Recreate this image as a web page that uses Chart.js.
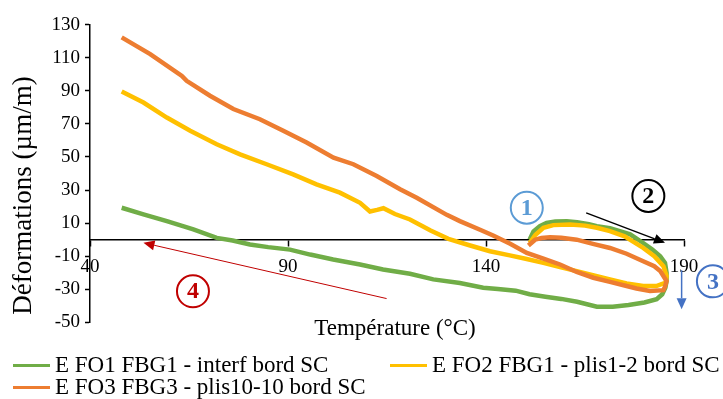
<!DOCTYPE html>
<html>
<head>
<meta charset="utf-8">
<script src="https://cdn.jsdelivr.net/npm/chart.js@4.4.1/dist/chart.umd.min.js"></script>
<style>
    body { margin: 0; background: #fff; }
    #wrap { position: relative; width: 723px; height: 399px; }
    #legend { position: absolute; left: 0; top: 0; font: 23px 'Liberation Serif', serif; color: #000; }
    .item { position: absolute; display: flex; align-items: center; height: 24px; white-space: nowrap; }
    .swatch { width: 37px; height: 3px; margin-right: 5px; }
</style>
</head>
<body>
<div id="wrap">
    <canvas id="chart"></canvas>
    <div id="legend"></div>
</div>
<script>
// Series labels and colours
const seriesLabels = [
    'E FO1 FBG1 - interf bord SC',
    'E FO2 FBG1 - plis1-2 bord SC',
    'E FO3 FBG3 - plis10-10 bord SC'
];
const seriesColors = ['#70ad47', '#ffc000', '#ed7d31'];

// Axis ticks
const xTicks = [40, 90, 140, 190];
const yTicks = [-50, -30, -10, 10, 30, 50, 70, 90, 110, 130];

// FO1 (green) - temperature / deformation, in recorded order
const fo1Temp = [151.0, 152.0, 153.6, 155.3, 157.5, 160.4, 163.0, 166.0, 168.0, 171.3, 174.0, 176.4, 179.7, 182.0, 184.0, 185.2, 185.6, 185.6, 185.3, 184.5,
    183.1, 180.0, 176.0, 172.0, 168.0, 163.0, 159.0, 155.0, 151.0, 147.5, 143.0, 139.3, 133.4, 126.7, 120.8, 114.0, 108.2, 101.4, 95.6, 90.5,
    85.0, 80.4, 76.0, 72.0, 66.1, 59.4, 53.5, 48.0];
const fo1Def = [0, 5, 8.2, 10.2, 11, 11.2, 10.5, 9.3, 8.2, 7.0, 5.0, 3.2, -2, -6, -10, -14, -20, -25, -29, -33,
    -36, -38, -39.5, -40.5, -40.5, -37.5, -35.8, -34.5, -33, -30.8, -29.8, -29, -26.2, -24, -20.6, -18, -15, -12, -9, -6,
    -4.5, -2.9, -0.5, 1.1, 6.2, 11.2, 15.3, 19.3];

// FO2 (yellow)
const fo2Temp = [151.0, 152.5, 154.5, 157.0, 161.2, 165.0, 168.0, 171.3, 175.0, 179.7, 182.5, 184.8, 185.6, 185.4, 183.0, 179.7, 175.5, 171.3, 167.0, 162.9,
    158.7, 154.5, 150.0, 146.0, 141.0, 136.0, 130.5, 126.0, 120.8, 117.0, 114.1, 112.5, 110.7, 108.2, 103.1, 97.2, 91.3, 84.6, 77.9, 72.0,
    65.3, 59.4, 53.5, 48.0];
const fo2Def = [-2, 3, 7.2, 8.8, 9.2, 8.5, 7.2, 5.2, 2, -5, -10, -16, -22, -26, -28, -28, -26.5, -24, -21.5, -19,
    -16.5, -14, -11.5, -9.5, -7, -3.5, 0.5, 5.5, 12.2, 15.5, 19, 18, 17, 22.3, 28.4, 33.4, 39.5, 45.6, 51.6, 57.7,
    65.8, 73.8, 82.9, 89.6];

// FO3 (orange)
const fo3Temp = [150.7, 152.4, 154.0, 156.2, 159.0, 162.9, 167.0, 171.3, 175.5, 179.7, 182.5, 184.0, 185.6, 185.2, 184.8, 181.4, 178.0, 175.5, 171.3, 167.1,
    162.9, 158.7, 154.5, 150.3, 146.1, 141.8, 138.5, 133.4, 130.1, 122.5, 118.3, 112.4, 106.5, 101.5, 94.7, 88.8, 82.9, 76.2, 70.3, 64.4,
    63.2, 55.2, 48.0];
const fo3Def = [-3.5, 0, 1, 1.5, 1.2, 0, -2.5, -5, -8.5, -13, -16, -19, -25, -28.5, -30.5, -31, -29.5, -28, -25.5, -23,
    -19.5, -15, -11.5, -8, -2.5, 2.5, 6, 11.2, 15, 25.3, 30.5, 38.5, 45.6, 49.6, 58.7, 65.8, 72.8, 79, 87, 96,
    99, 112.2, 122.3];

// Step markers (circled numbers) and arrows, in data units
const stepLabels = ['1', '2', '3', '4'];
const stepColors = ['#5b9bd5', '#000000', '#4472c4', '#c00000'];
const stepTemp = [150.3, 181.0, 197.3, 66.0];
const stepDef = [19.3, 26.4, -25.2, -31.2];

const arrowColors = ['#000000', '#4472c4', '#c00000'];
const arrowFrom = [[165.3, 16.2], [189.4, -18.5], [114.9, -35.6]];
const arrowTo = [[185.2, -1.9], [189.4, -42.0], [53.5, -1.9]];
const arrowWidths = [1.5, 1.5, 1];

const serif = "'Liberation Serif', 'Times New Roman', serif";

function toPoints(temps, defs) {
    return temps.map((t, i) => ({ x: t, y: defs[i] }));
}

const seriesData = [
    toPoints(fo1Temp, fo1Def),
    toPoints(fo2Temp, fo2Def),
    toPoints(fo3Temp, fo3Def)
];

// Axis titles, circled numbers and arrows
const overlayPlugin = {
    id: 'overlay',
    afterDraw(chart) {
        const { ctx, chartArea, scales: { x, y } } = chart;
        ctx.save();

        ctx.fillStyle = '#000';
        ctx.textAlign = 'center';
        ctx.textBaseline = 'middle';
        ctx.font = '23px ' + serif;
        ctx.fillText('Température (°C)', (chartArea.left + chartArea.right) / 2 + 8, chartArea.bottom + 7);

        ctx.save();
        ctx.translate(24, (chartArea.top + chartArea.bottom) / 2 + 22);
        ctx.rotate(-Math.PI / 2);
        ctx.font = '27px ' + serif;
        ctx.fillText('Déformations (µm/m)', 0, 0);
        ctx.restore();

        // arrows
        arrowFrom.forEach((from, i) => {
            const x1 = x.getPixelForValue(from[0]);
            const y1 = y.getPixelForValue(from[1]);
            const x2 = x.getPixelForValue(arrowTo[i][0]);
            const y2 = y.getPixelForValue(arrowTo[i][1]);
            const ang = Math.atan2(y2 - y1, x2 - x1);
            const head = 11;
            ctx.strokeStyle = arrowColors[i];
            ctx.fillStyle = arrowColors[i];
            ctx.lineWidth = arrowWidths[i];
            ctx.beginPath();
            ctx.moveTo(x1, y1);
            ctx.lineTo(x2 - head * Math.cos(ang), y2 - head * Math.sin(ang));
            ctx.stroke();
            ctx.beginPath();
            ctx.moveTo(x2, y2);
            ctx.lineTo(x2 - head * Math.cos(ang) + 5 * Math.sin(ang), y2 - head * Math.sin(ang) - 5 * Math.cos(ang));
            ctx.lineTo(x2 - head * Math.cos(ang) - 5 * Math.sin(ang), y2 - head * Math.sin(ang) + 5 * Math.cos(ang));
            ctx.closePath();
            ctx.fill();
        });

        // circled step numbers
        stepLabels.forEach((label, i) => {
            const cx = x.getPixelForValue(stepTemp[i]);
            const cy = y.getPixelForValue(stepDef[i]);
            ctx.strokeStyle = stepColors[i];
            ctx.fillStyle = stepColors[i];
            ctx.lineWidth = 2;
            ctx.beginPath();
            ctx.arc(cx, cy, 16, 0, Math.PI * 2);
            ctx.stroke();
            ctx.font = 'bold 24px ' + serif;
            ctx.fillText(label, cx, cy + 1);
        });

        ctx.restore();
    }
};

// Build HTML legend
function renderLegend() {
    const legend = document.getElementById('legend');
    const spots = [[13, 353], [390, 353], [13, 375]];
    seriesLabels.forEach((label, i) => {
        const item = document.createElement('div');
        item.className = 'item';
        item.style.left = spots[i][0] + 'px';
        item.style.top = spots[i][1] + 'px';
        item.innerHTML = `<span class="swatch" style="background:${seriesColors[i]}"></span>${label}`;
        legend.appendChild(item);
    });
}

const ctx = document.getElementById('chart').getContext('2d');

new Chart(ctx, {
    type: 'scatter',
    data: {
        datasets: seriesLabels.map((label, i) => ({
            label: label,
            data: seriesData[i],
            showLine: true,
            borderColor: seriesColors[i],
            backgroundColor: seriesColors[i],
            borderWidth: 4.5,
            pointRadius: 0,
            tension: 0,
            order: 3 - i
        }))
    },
    options: {
        responsive: true,
        maintainAspectRatio: false,
        animation: false,
        layout: { padding: { left: 8, top: 24.6, right: 39, bottom: 76.6 } },
        plugins: {
            legend: { display: false },
            tooltip: { enabled: false }
        },
        scales: {
            x: {
                type: 'linear',
                position: { y: 0 },
                min: xTicks[0],
                max: xTicks[xTicks.length - 1],
                ticks: {
                    stepSize: xTicks[1] - xTicks[0],
                    color: '#000',
                    padding: 10,
                    font: { family: serif, size: 19 }
                },
                grid: { drawOnChartArea: false, tickLength: 6, color: '#000', tickWidth: 1.5 },
                border: { color: '#000', width: 1.5 }
            },
            y: {
                min: yTicks[0],
                max: yTicks[yTicks.length - 1],
                ticks: {
                    stepSize: yTicks[1] - yTicks[0],
                    color: '#000',
                    padding: 5,
                    font: { family: serif, size: 19 }
                },
                grid: { drawOnChartArea: false, tickLength: 5, color: '#000', tickWidth: 1.5 },
                border: { color: '#000', width: 1.5 },
                afterFit: scale => { scale.width = 82; }
            }
        }
    },
    plugins: [overlayPlugin]
});

renderLegend();
</script>
</body>
</html>
